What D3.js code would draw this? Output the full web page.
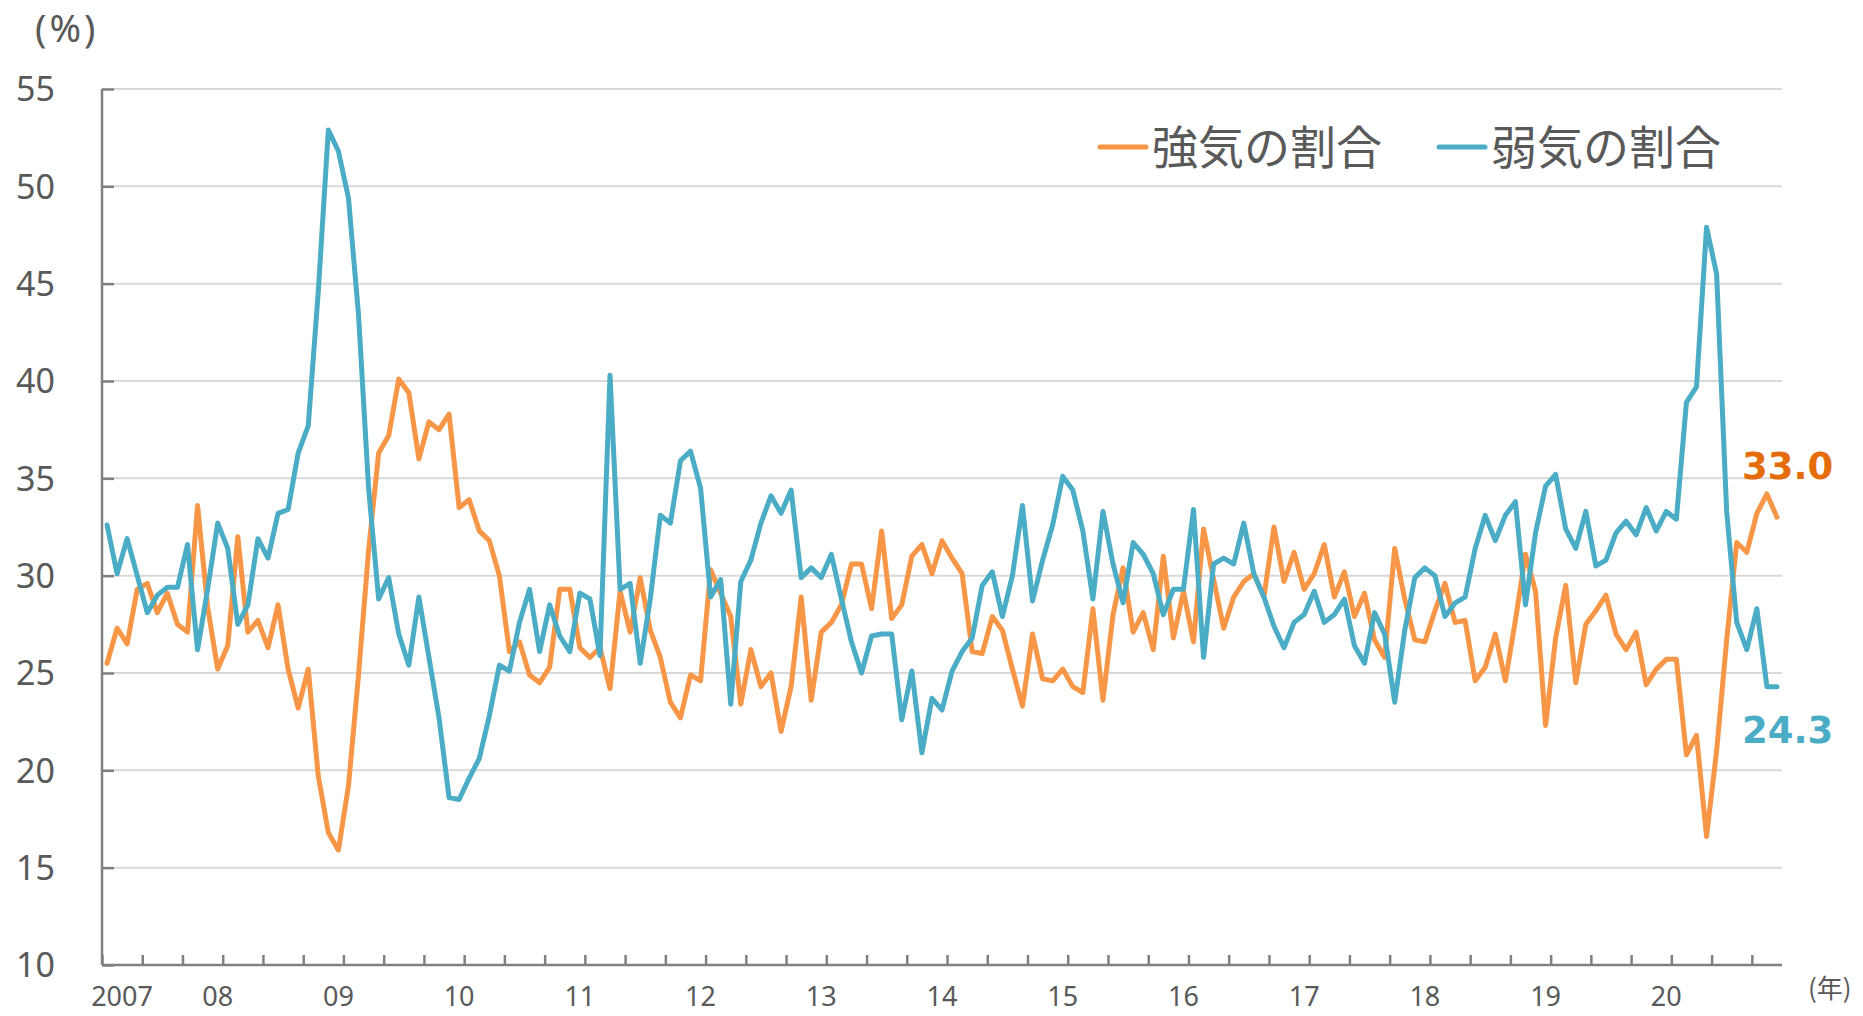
<!DOCTYPE html>
<html>
<head>
<meta charset="utf-8">
<script src="https://cdn.jsdelivr.net/npm/d3@7"></script>
<style>
	body { margin: 0; background: #fff; }
	text { fill: #595959; font-family: "Noto Sans", "DejaVu Sans", sans-serif; }
	.jp { font-family: "Noto Sans CJK JP", "Noto Sans", sans-serif; }
</style>
</head>
<body>
<div id="chart"></div>
<script>
//Monthly data, Feb 2007 - Dec 2020 (%)
var bullish = [
	25.5,27.3,26.5,29.3,29.6,28.1,29.1,27.5,27.1,33.6,28.4,25.2,
	26.4,32.0,27.1,27.7,26.3,28.5,25.2,23.2,25.2,19.7,16.8,15.9,
	19.2,24.9,31.3,36.3,37.2,40.1,39.4,36.0,37.9,37.5,38.3,33.5,
	33.9,32.3,31.8,30.0,26.1,26.6,24.9,24.5,25.3,29.3,29.3,26.3,
	25.8,26.3,24.2,29.2,27.1,29.9,27.2,25.8,23.5,22.7,24.9,24.6,
	30.3,29.1,27.9,23.4,26.2,24.3,25.0,22.0,24.3,28.9,23.6,27.1,
	27.6,28.5,30.6,30.6,28.3,32.3,27.8,28.5,31.0,31.6,30.1,31.8,
	30.9,30.1,26.1,26.0,27.9,27.2,25.2,23.3,27.0,24.7,24.6,25.2,
	24.3,24.0,28.3,23.6,28.0,30.4,27.1,28.1,26.2,31.0,26.8,29.2,
	26.6,32.4,29.8,27.3,28.9,29.7,30.1,28.9,32.5,29.7,31.2,29.3,
	30.1,31.6,28.9,30.2,27.9,29.1,26.7,25.8,31.4,28.8,26.7,26.6,
	28.2,29.6,27.6,27.7,24.6,25.3,27.0,24.6,27.7,31.1,29.2,22.3,
	26.8,29.5,24.5,27.5,28.2,29.0,27.0,26.2,27.1,24.4,25.2,25.7,
	25.7,20.8,21.8,16.6,21.0,26.7,31.7,31.2,33.2,34.2,33.0
];
var bearish = [
	32.6,30.1,31.9,30.0,28.1,29.0,29.4,29.4,31.6,26.2,29.3,32.7,
	31.4,27.5,28.5,31.9,30.9,33.2,33.4,36.3,37.7,44.6,52.9,51.8,
	49.4,43.4,34.5,28.8,29.9,27.0,25.4,28.9,25.8,22.7,18.6,18.5,
	19.6,20.6,22.8,25.4,25.1,27.6,29.3,26.1,28.5,26.9,26.1,29.1,
	28.8,25.9,40.3,29.3,29.6,25.5,28.8,33.1,32.7,35.9,36.4,34.5,
	28.9,29.8,23.4,29.7,30.8,32.7,34.1,33.2,34.4,29.9,30.4,29.9,
	31.1,28.8,26.6,25.0,26.9,27.0,27.0,22.6,25.1,20.9,23.7,23.1,
	25.1,26.1,26.8,29.5,30.2,27.9,30.0,33.6,28.7,30.8,32.6,35.1,
	34.4,32.3,28.8,33.3,30.6,28.6,31.7,31.1,30.1,28.0,29.3,29.3,
	33.4,25.8,30.6,30.9,30.6,32.7,30.1,28.9,27.4,26.3,27.6,28.0,
	29.2,27.6,28.0,28.8,26.4,25.5,28.1,27.0,23.5,27.2,29.9,30.4,
	30.0,27.9,28.6,28.9,31.4,33.1,31.8,33.1,33.8,28.5,32.2,34.6,
	35.2,32.4,31.4,33.3,30.5,30.8,32.2,32.8,32.1,33.5,32.3,33.3,
	32.9,38.9,39.7,47.9,45.5,33.3,27.6,26.2,28.3,24.3,24.3
];
var yearLabels = ["2007","08","09","10","11","12","13","14","15","16","17","18","19","20"];
var yTicks = [10,15,20,25,30,35,40,45,50,55];
var seriesNames = ["強気の割合","弱気の割合"];

var colorBull = "#f79646";
var colorBear = "#4bacc6";

///////////////////////////////////////////////////////////////////////////
/////////////////////////////// Set-up SVG ////////////////////////////////
///////////////////////////////////////////////////////////////////////////

var width = 1863;
var height = 1016;
var plot = { left: 102, right: 1782, top: 89, bottom: 965 };

var svg = d3.select("#chart")
	.append("svg")
	.attr("width", width)
	.attr("height", height);

var n = bullish.length;

var x = d3.scaleLinear()
	.domain([0, n])
	.range([plot.left, plot.right]);

var y = d3.scaleLinear()
	.domain([10, 55])
	.range([plot.bottom, plot.top]);

///////////////////////////////////////////////////////////////////////////
///////////////////////////// Grid and axes ///////////////////////////////
///////////////////////////////////////////////////////////////////////////

svg.selectAll(".grid")
	.data(yTicks.filter(function(d) { return d > 10; }))
	.enter().append("line")
	.attr("x1", plot.left)
	.attr("x2", plot.right)
	.attr("y1", function(d) { return y(d); })
	.attr("y2", function(d) { return y(d); })
	.style("stroke", "#d9d9d9")
	.style("stroke-width", 2);

//y axis: ticks point inwards
var yAxis = svg.append("g")
	.attr("transform", "translate(" + plot.left + ",0)")
	.call(d3.axisRight(y).tickValues(yTicks).tickSize(12).tickFormat(""));

//x axis: a tick every 4 months, pointing up
var xAxis = svg.append("g")
	.attr("transform", "translate(0," + plot.bottom + ")")
	.call(d3.axisTop(x).tickValues(d3.range(0, n, 4)).tickSize(10).tickFormat("").tickSizeOuter(0));

[yAxis, xAxis].forEach(function(g) {
	g.selectAll("path, line")
		.style("stroke", "#808080")
		.style("stroke-width", 2.5);
});
xAxis.select(".domain").attr("d", "M" + plot.left + ",0H" + plot.right);
yAxis.select(".domain").attr("d", "M0," + plot.top + "V" + plot.bottom);

svg.selectAll(".y-label")
	.data(yTicks)
	.enter().append("text")
	.attr("x", 55)
	.attr("y", function(d) { return y(d); })
	.attr("dy", "0.36em")
	.style("text-anchor", "end")
	.style("font-size", "34px")
	.text(function(d) { return d; });

svg.append("text")
	.attr("x", 35)
	.attr("y", 42)
	.style("font-size", "38px")
	.style("letter-spacing", "3px")
	.text("(%)");

//year labels sit on the January of each year
svg.selectAll(".x-label")
	.data(yearLabels)
	.enter().append("text")
	.attr("x", function(d, i) { return i === 0 ? x(0.5) + 15 : x(11 + 12 * (i - 1) + 0.5); })
	.attr("y", 1006)
	.style("text-anchor", "middle")
	.style("font-size", "27px")
	.text(function(d) { return d; });

svg.append("text")
	.attr("class", "jp")
	.attr("x", 1808)
	.attr("y", 998)
	.style("font-size", "26px")
	.text("(年)");

///////////////////////////////////////////////////////////////////////////
///////////////////////////////// Lines ///////////////////////////////////
///////////////////////////////////////////////////////////////////////////

var line = d3.line()
	.x(function(d, i) { return x(i + 0.5); })
	.y(function(d) { return y(d); });

svg.append("path")
	.datum(bullish)
	.attr("d", line)
	.style("fill", "none")
	.style("stroke", colorBull)
	.style("stroke-width", 5)
	.style("stroke-linejoin", "round")
	.style("stroke-linecap", "round");

svg.append("path")
	.datum(bearish)
	.attr("d", line)
	.style("fill", "none")
	.style("stroke", colorBear)
	.style("stroke-width", 5)
	.style("stroke-linejoin", "round")
	.style("stroke-linecap", "round");

//latest values
var lastBull = bullish[n - 1];
var lastBear = bearish[n - 1];

svg.append("text")
	.attr("x", 1742)
	.attr("y", y(lastBull) - 38)
	.style("fill", "#e46c0a")
	.style("font-family", "DejaVu Sans")
	.style("font-weight", "bold")
	.style("font-size", "37px")
	.text(lastBull.toFixed(1));

svg.append("text")
	.attr("x", 1742)
	.attr("y", y(lastBear) + 56)
	.style("fill", colorBear)
	.style("font-family", "DejaVu Sans")
	.style("font-weight", "bold")
	.style("font-size", "37px")
	.text(lastBear.toFixed(1));

///////////////////////////////////////////////////////////////////////////
//////////////////////////////// Legend ///////////////////////////////////
///////////////////////////////////////////////////////////////////////////

var legendX = [1098, 1437];
var legend = svg.selectAll(".legend")
	.data(seriesNames)
	.enter().append("g")
	.attr("transform", function(d, i) { return "translate(" + legendX[i] + ",147)"; });

legend.append("line")
	.attr("x1", 2)
	.attr("x2", 48)
	.style("stroke", function(d, i) { return i === 0 ? colorBull : colorBear; })
	.style("stroke-width", 5)
	.style("stroke-linecap", "round");

legend.append("text")
	.attr("class", "jp")
	.attr("x", 54)
	.attr("y", 0)
	.attr("dy", "0.36em")
	.style("font-size", "46px")
	.text(function(d) { return d; });
</script>
</body>
</html>
